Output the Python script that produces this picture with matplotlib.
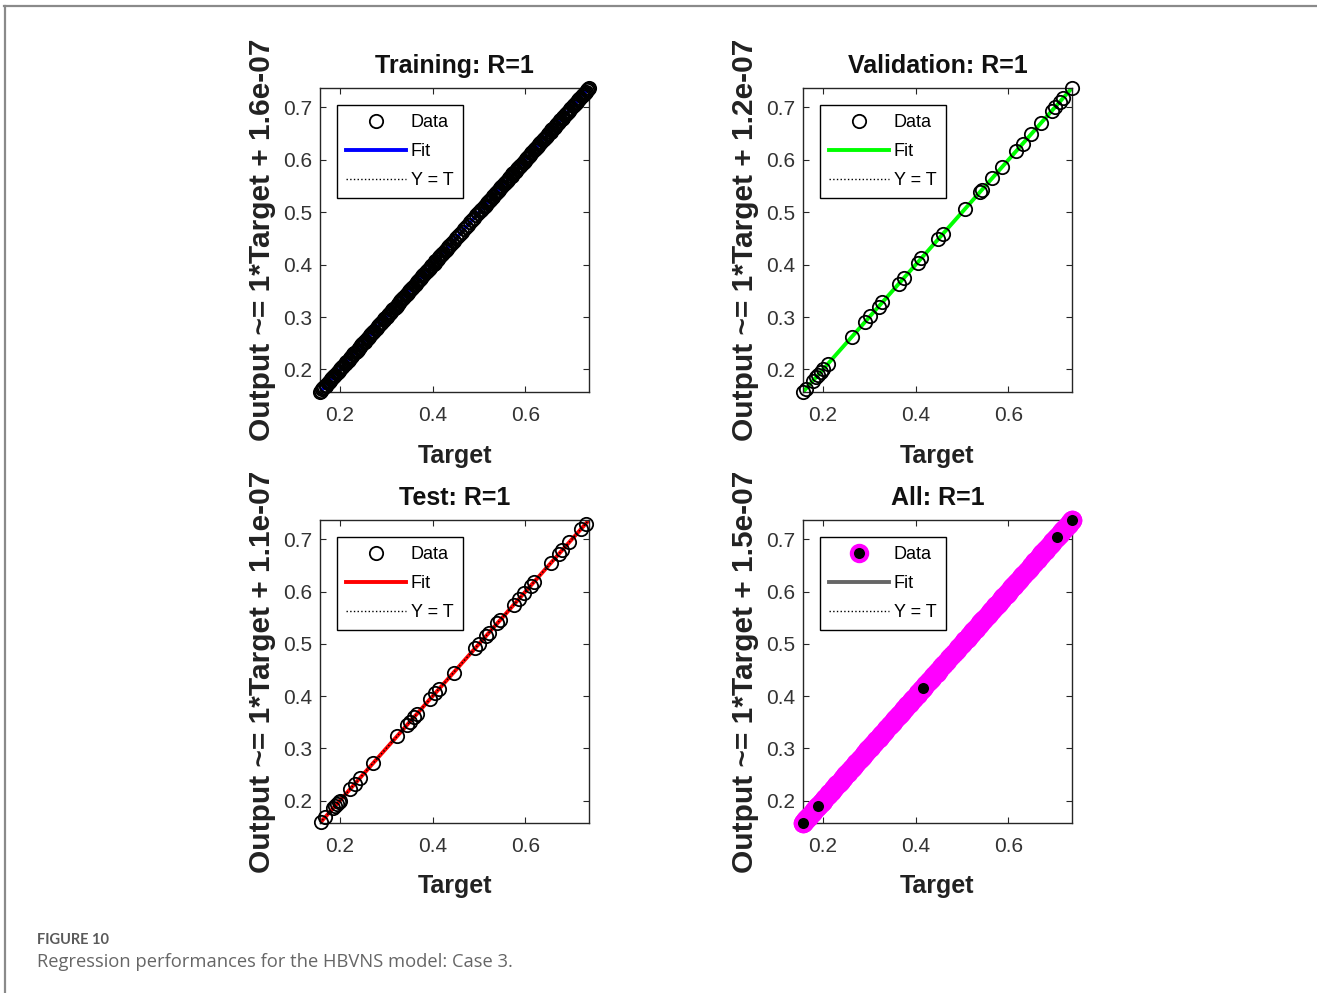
import numpy as np
import matplotlib
matplotlib.use('Agg')
import matplotlib.pyplot as plt
from matplotlib.lines import Line2D

plt.rcParams['font.family'] = ['Liberation Sans', 'DejaVu Sans']

# Network targets for each split (outputs equal the targets to ~1e-7)
train_target = [0.157, 0.159, 0.162, 0.164, 0.166, 0.169, 0.171, 0.174, 0.176, 0.178,
                0.181, 0.183, 0.186, 0.188, 0.190, 0.193, 0.195, 0.198, 0.200, 0.202,
                0.205, 0.207, 0.210, 0.212, 0.214, 0.217, 0.219, 0.222, 0.224, 0.226,
                0.229, 0.231, 0.234, 0.236, 0.238, 0.241, 0.243, 0.246, 0.248, 0.250,
                0.253, 0.255, 0.258, 0.260, 0.262, 0.265, 0.267, 0.270, 0.272, 0.274,
                0.277, 0.279, 0.282, 0.284, 0.286, 0.289, 0.291, 0.294, 0.296, 0.298,
                0.301, 0.303, 0.306, 0.308, 0.310, 0.313, 0.315, 0.318, 0.320, 0.322,
                0.325, 0.327, 0.330, 0.332, 0.334, 0.337, 0.339, 0.342, 0.344, 0.346,
                0.349, 0.351, 0.354, 0.356, 0.358, 0.361, 0.363, 0.366, 0.368, 0.370,
                0.373, 0.375, 0.378, 0.380, 0.382, 0.385, 0.387, 0.390, 0.392, 0.394,
                0.397, 0.399, 0.402, 0.404, 0.406, 0.409, 0.411, 0.414, 0.416, 0.418,
                0.421, 0.423, 0.426, 0.428, 0.430, 0.433, 0.435, 0.438, 0.442, 0.446,
                0.450, 0.455, 0.459, 0.463, 0.468, 0.472, 0.476, 0.481, 0.485, 0.489,
                0.494, 0.498, 0.502, 0.505, 0.507, 0.510, 0.512, 0.514, 0.517, 0.519,
                0.522, 0.524, 0.526, 0.529, 0.531, 0.534, 0.536, 0.538, 0.541, 0.543,
                0.546, 0.548, 0.550, 0.553, 0.555, 0.558, 0.560, 0.562, 0.565, 0.567,
                0.570, 0.572, 0.574, 0.577, 0.579, 0.582, 0.584, 0.586, 0.589, 0.591,
                0.594, 0.596, 0.598, 0.601, 0.603, 0.606, 0.608, 0.610, 0.613, 0.615,
                0.618, 0.620, 0.622, 0.625, 0.627, 0.630, 0.632, 0.634, 0.637, 0.639,
                0.642, 0.644, 0.646, 0.649, 0.651, 0.654, 0.656, 0.658, 0.661, 0.663,
                0.666, 0.668, 0.670, 0.673, 0.675, 0.678, 0.680, 0.682, 0.685, 0.687,
                0.690, 0.692, 0.694, 0.697, 0.699, 0.702, 0.704, 0.706, 0.709, 0.711,
                0.714, 0.716, 0.718, 0.721, 0.723, 0.726, 0.728, 0.730, 0.733, 0.735,
                0.737]
val_target = [0.157, 0.163, 0.178, 0.186, 0.190, 0.196, 0.200, 0.210, 0.262, 0.291,
              0.302, 0.320, 0.328, 0.364, 0.375, 0.404, 0.412, 0.448, 0.459, 0.507,
              0.539, 0.543, 0.565, 0.587, 0.616, 0.631, 0.649, 0.671, 0.693, 0.700,
              0.711, 0.718, 0.737]
test_target = [0.159, 0.168, 0.186, 0.190, 0.194, 0.198, 0.200, 0.222, 0.232, 0.243,
               0.272, 0.323, 0.344, 0.351, 0.359, 0.366, 0.395, 0.405, 0.413, 0.445,
               0.492, 0.499, 0.514, 0.521, 0.539, 0.546, 0.575, 0.586, 0.597, 0.611,
               0.618, 0.654, 0.672, 0.679, 0.694, 0.719, 0.730]
# points left uncovered on top of the combined cloud
all_front_target = [0.157, 0.190, 0.415, 0.705, 0.737]

all_target = train_target + val_target + test_target

titles = ['Training: R=1', 'Validation: R=1', 'Test: R=1', 'All: R=1']
offsets = ['1.6e-07', '1.2e-07', '1.1e-07', '1.5e-07']
fit_colors = ['#0000ff', '#00ff00', '#ff0000', '#666666']
ticks_x = [0.2, 0.4, 0.6]
ticks_y = [0.2, 0.3, 0.4, 0.5, 0.6, 0.7]

W, H = 1317, 993
fig = plt.figure(figsize=(W / 100, H / 100), dpi=100)

# page frame
fig.add_artist(Line2D([4 / W, 1], [1 - 5.5 / H, 1 - 5.5 / H], color='#8a8a8a', lw=1.6))
fig.add_artist(Line2D([4.5 / W, 4.5 / W], [0, 1 - 5.5 / H], color='#8a8a8a', lw=1.6))

rects = [
    [320 / W, 1 - 392 / H, 269 / W, 304 / H],
    [803 / W, 1 - 392 / H, 269 / W, 304 / H],
    [320 / W, 1 - 823 / H, 269 / W, 303 / H],
    [803 / W, 1 - 823 / H, 269 / W, 303 / H],
]

lo, hi = min(all_target), max(all_target)
circle = dict(ls='none', marker='o', mfc='none', mec='k', ms=9.6, mew=1.3, clip_on=False)


def style_axes(ax, title, offset):
    ax.set_xlim(lo, hi)
    ax.set_ylim(lo, hi)
    ax.set_xticks(ticks_x)
    ax.set_yticks(ticks_y)
    ax.tick_params(direction='in', top=True, right=True, length=4, width=0.8,
                   labelsize=15, labelcolor='#333333', color='#262626')
    ax.tick_params(axis='x', pad=10)
    ax.tick_params(axis='y', pad=5.5)
    for s in ax.spines.values():
        s.set_color('#262626')
        s.set_linewidth(1.0)
    ax.text(0.5, 1.05, title, transform=ax.transAxes, ha='center', va='baseline',
            fontsize=18, fontweight='bold', color='#111111')
    ax.set_xlabel('Target', fontsize=18, fontweight='bold', color='#222222', va='baseline')
    ax.xaxis.set_label_coords(0.5, -0.232)
    ax.set_ylabel('Output ~= 1*Target + ' + offset, fontsize=21.5, fontweight='bold',
                  color='#222222', va='center')
    ax.yaxis.set_label_coords(-0.216, 0.5)


def add_legend(ax, handles):
    leg = ax.legend(handles, ['Data', 'Fit', 'Y = T'], loc='upper left',
                    bbox_to_anchor=(0.063, 0.944), borderaxespad=0, fontsize=13,
                    handlelength=3.3, handletextpad=0.3, borderpad=0.5,
                    labelspacing=0.66, fancybox=False, framealpha=1, edgecolor='k')
    leg.get_frame().set_linewidth(1.0)
    leg.set_zorder(10)


split_targets = [train_target, val_target, test_target]
dots_on_top = [False, False, True]

for i in range(3):
    ax = fig.add_axes(rects[i])
    t = np.array(split_targets[i])
    y = t.copy()
    slope, icpt = np.polyfit(t, y, 1)
    xs = np.array([lo, hi])
    h_fit, = ax.plot(xs, slope * xs + icpt, color=fit_colors[i], lw=2.8, zorder=2)
    h_data, = ax.plot(t, y, zorder=3, **circle)
    h_yt, = ax.plot(xs, xs, ':', color='k', lw=1.0, zorder=4 if dots_on_top[i] else 1)
    style_axes(ax, titles[i], offsets[i])
    add_legend(ax, [h_data, h_fit, h_yt])

# combined panel
ax = fig.add_axes(rects[3])
t = np.array(all_target)
slope, icpt = np.polyfit(t, t, 1)
xs = np.array([lo, hi])
h_yt, = ax.plot(xs, xs, ':', color='k', lw=1.0, zorder=1)
h_fit, = ax.plot(xs, slope * xs + icpt, color=fit_colors[3], lw=2.8, zorder=2)
ax.plot(t, t, ls='none', marker='o', mfc='#ff00ff', mec='#ff00ff', ms=11.0, mew=3.0,
        zorder=3, clip_on=False)
tf = np.array(all_front_target)
h_data, = ax.plot(tf, tf, ls='none', marker='o', mfc='k', mec='#ff00ff', ms=11.0,
                  mew=3.0, zorder=4, clip_on=False)
style_axes(ax, titles[3], offsets[3])
add_legend(ax, [h_data, h_fit, h_yt])

fig.text(37 / W, 1 - 944 / H, 'FIGURE 10', fontsize=10.5, fontweight='bold',
         color='#5a5a5a', family=['Lato', 'DejaVu Sans'], va='baseline')
fig.text(37 / W, 1 - 967 / H, 'Regression performances for the HBVNS model: Case 3.',
         fontsize=13.2, color='#666666', family=['Open Sans', 'DejaVu Sans'],
         va='baseline')

fig.savefig('out.png', dpi=100)
